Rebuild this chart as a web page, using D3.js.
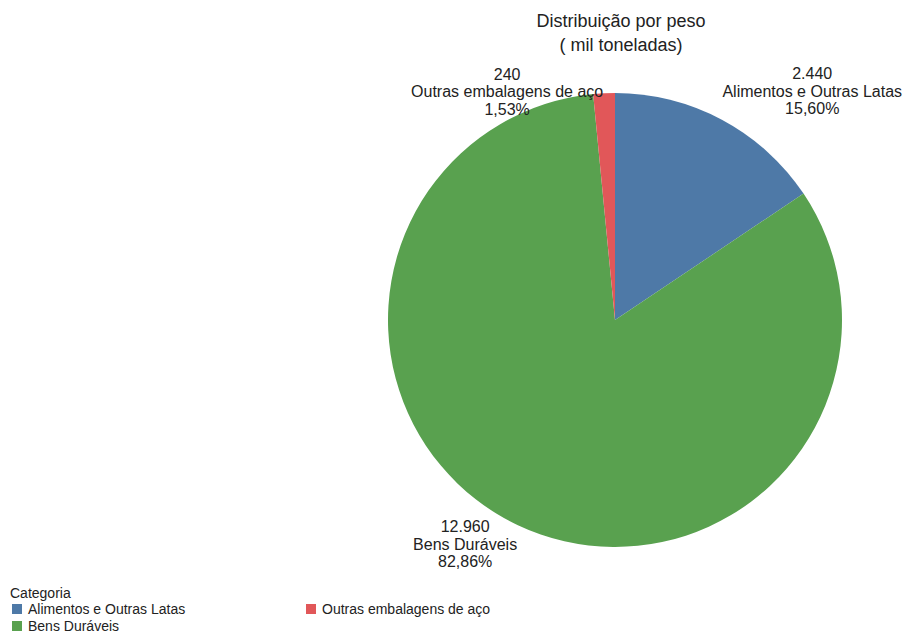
<!DOCTYPE html>
<html>
<head>
<meta charset="utf-8">
<script src="https://cdn.jsdelivr.net/npm/d3@7"></script>
<style>
  body { margin: 0; background: #fff; }
  text { font-family: "Liberation Sans", Arial, sans-serif; fill: #222; }
</style>
</head>
<body>
<div id="chart"></div>
<script>
// ===== DATA =====
const categories = ['Alimentos e Outras Latas', 'Bens Duráveis', 'Outras embalagens de aço'];
const values = [2440, 12960, 240];
const valueLabels = ['2.440', '12.960', '240'];
const percentLabels = ['15,60%', '82,86%', '1,53%'];
const colors = ['#4e79a7', '#59a14f', '#e15759'];
const legendOrder = ['Alimentos e Outras Latas', 'Outras embalagens de aço', 'Bens Duráveis'];

// small nudges so labels sit where the original renderer put them
const labelNudge = {
  'Alimentos e Outras Latas': { dx: -8, dy: -12 },
  'Bens Duráveis': { dx: 7, dy: 3 },
  'Outras embalagens de aço': { dx: 0, dy: 17 }
};

const W = 907, H = 635;
const cx = 615, cy = 320, radius = 227;

const svg = d3.select('#chart').append('svg')
  .attr('width', W)
  .attr('height', H);

// Title
svg.append('text')
  .attr('x', 621).attr('y', 27)
  .attr('text-anchor', 'middle')
  .style('font-size', '18px')
  .text('Distribuição por peso');
svg.append('text')
  .attr('x', 621).attr('y', 51)
  .attr('text-anchor', 'middle')
  .style('font-size', '18px')
  .text('( mil toneladas)');

const color = d3.scaleOrdinal().domain(categories).range(colors);

const pie = d3.pie().sort(null).value(d => d.value);
const data = categories.map((c, i) => ({
  name: c, value: values[i], vlabel: valueLabels[i], plabel: percentLabels[i]
}));
const arcs = pie(data);

const arc = d3.arc().innerRadius(0).outerRadius(radius);
const labelArc = d3.arc().innerRadius(radius * 1.08).outerRadius(radius * 1.08);

const g = svg.append('g').attr('transform', `translate(${cx},${cy})`);

g.selectAll('path.slice')
  .data(arcs)
  .enter().append('path')
  .attr('class', 'slice')
  .attr('d', arc)
  .attr('fill', d => color(d.data.name));

// Labels: inner edge of the text block sits on the label arc
const lineGap = 17.5;
arcs.forEach(d => {
  const mid = (d.startAngle + d.endAngle) / 2;
  const [px, py] = labelArc.centroid(d);
  const nudge = labelNudge[d.data.name];
  const lbl = g.append('g');
  const lines = [d.data.vlabel, d.data.name, d.data.plabel];
  const texts = lbl.selectAll('text')
    .data(lines)
    .enter().append('text')
    .attr('text-anchor', 'middle')
    .style('font-size', '16px')
    .attr('y', (t, i) => (i - 1) * lineGap + 5)
    .text(t => t);
  let maxW = 0;
  texts.each(function () { maxW = Math.max(maxW, this.getComputedTextLength()); });
  const rightSide = Math.sin(mid) >= 0;
  const centerX = px + nudge.dx + (rightSide ? maxW / 2 : -maxW / 2);
  lbl.attr('transform', `translate(${centerX},${py + nudge.dy})`);
});

// Legend
const legend = svg.append('g');
legend.append('text')
  .attr('x', 10).attr('y', 598)
  .style('font-size', '14px')
  .text('Categoria');

const legendPos = [
  { x: 12, y: 614 },
  { x: 306, y: 614 },
  { x: 12, y: 631 }
];
legendOrder.forEach((name, i) => {
  const p = legendPos[i];
  legend.append('rect')
    .attr('x', p.x).attr('y', p.y - 10)
    .attr('width', 10).attr('height', 10)
    .attr('fill', color(name));
  legend.append('text')
    .attr('x', p.x + 16).attr('y', p.y)
    .style('font-size', '14px')
    .text(name);
});
</script>
</body>
</html>
